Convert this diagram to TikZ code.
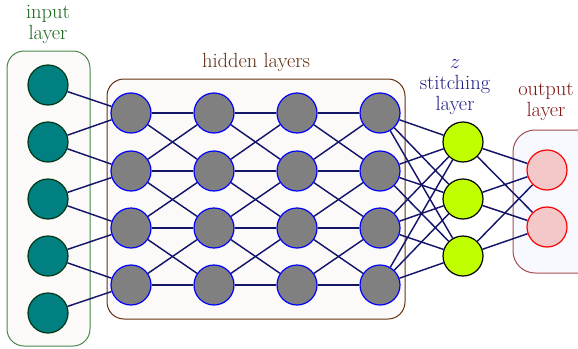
\documentclass[tikz,border=0pt]{standalone}
\usepackage{tikz}
\pgfdeclarelayer{frames}
\pgfdeclarelayer{edges}
\pgfsetlayers{frames,edges,main}
\definecolor{edgecol}{RGB}{20,20,105}
\definecolor{inborder}{RGB}{0,55,20}
\definecolor{inbox}{RGB}{75,135,75}
\definecolor{hidbox}{RGB}{100,50,15}
\definecolor{outbox}{RGB}{160,80,80}
\definecolor{boxfill}{RGB}{251,250,249}
\definecolor{outfill}{RGB}{248,248,255}
\definecolor{pinkfill}{RGB}{244,200,200}
\definecolor{lblin}{RGB}{25,100,25}
\definecolor{lblhid}{RGB}{95,45,15}
\definecolor{lblst}{RGB}{30,30,135}
\definecolor{lblout}{RGB}{125,20,20}
\tikzset{
  neuron/.style={circle, minimum size=40pt, inner sep=0pt, line width=1.2pt},
  innode/.style={neuron, draw=inborder, fill=teal},
  hidnode/.style={neuron, draw=blue, fill=gray},
  stnode/.style={neuron, draw=black, fill=lime},
  outnode/.style={neuron, draw=red, fill=pinkfill},
  conn/.style={draw=edgecol, line width=1.45pt},
  layerbox/.style={rounded corners=17pt, line width=1pt},
  lbl/.style={align=center, font=\fontsize{20.5}{21}\selectfont, inner sep=0pt}
}
\begin{document}
\begin{tikzpicture}[x=1pt, y=-1pt]
\useasboundingbox (0,0) rectangle (578,348);
\clip (0,0) rectangle (578,348);

% layer frames
\begin{pgfonlayer}{frames}
\draw[layerbox, draw=inbox, fill=boxfill] (7,51) rectangle (90,346);
\draw[layerbox, draw=hidbox, fill=boxfill] (107,79) rectangle (405,319);
\draw[layerbox, rounded corners=22pt, draw=outbox, fill=outfill] (513,130) rectangle (600,273);
\end{pgfonlayer}

% labels
\node[lbl, text=lblin] (lin) at (48,24) {input\\layer};
\node[lbl, text=lblhid] (lhid) at (256,62) {hidden layers};
\node[lbl, text=lblst] (lst) at (455,87) {$z$\\stitching\\layer};
\node[lbl, text=lblout] (lout) at (546,102) {output\\layer};

% input neurons
\foreach \i/\y in {1/85,2/142,3/199,4/256,5/313}
  \node[innode] (in\i) at (48,\y) {};

% hidden neurons: columns c = 1..4, rows r = 1..4
\foreach \c/\x in {1/131,2/214,3/297,4/380}
  \foreach \r/\y in {1/113,2/171,3/228,4/285}
    \node[hidnode] (h\c-\r) at (\x,\y) {};

% stitching neurons
\foreach \s/\y in {1/142,2/199,3/256}
  \node[stnode] (st\s) at (463,\y) {};

% output neurons
\foreach \o/\y in {1/170,2/227}
  \node[outnode] (out\o) at (547,\y) {};

\begin{pgfonlayer}{edges}
% input -> first hidden column (neighbouring rows)
\draw[conn] (in1) -- (h1-1);
\draw[conn] (in2) -- (h1-1);
\draw[conn] (in2) -- (h1-2);
\draw[conn] (in3) -- (h1-2);
\draw[conn] (in3) -- (h1-3);
\draw[conn] (in4) -- (h1-3);
\draw[conn] (in4) -- (h1-4);
\draw[conn] (in5) -- (h1-4);

% hidden -> hidden (straight and to adjacent rows)
\foreach \c [evaluate=\c as \n using int(\c+1)] in {1,2,3}{
  \foreach \r in {1,2,3,4}
    \draw[conn] (h\c-\r) -- (h\n-\r);
  \foreach \r [evaluate=\r as \q using int(\r+1)] in {1,2,3}{
    \draw[conn] (h\c-\r) -- (h\n-\q);
    \draw[conn] (h\c-\q) -- (h\n-\r);
  }
}

% last hidden column -> stitching (full)
\foreach \r in {1,2,3,4}
  \foreach \s in {1,2,3}
    \draw[conn] (h4-\r) -- (st\s);

% stitching -> output (full)
\foreach \s in {1,2,3}
  \foreach \o in {1,2}
    \draw[conn] (st\s) -- (out\o);
\end{pgfonlayer}
\end{tikzpicture}
\end{document}
